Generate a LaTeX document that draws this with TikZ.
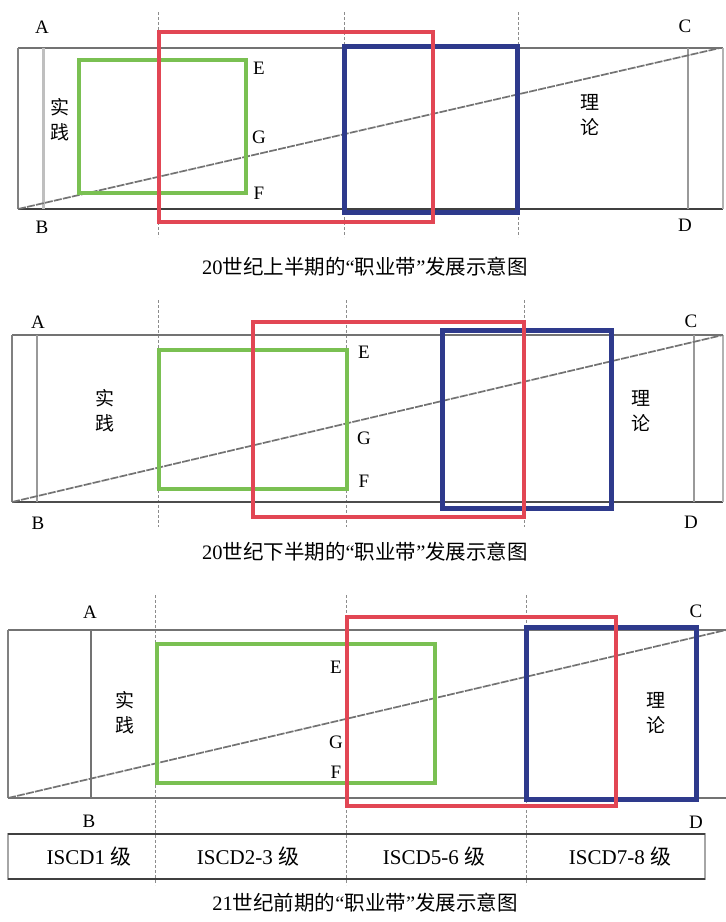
\documentclass[tikz,border=0pt]{standalone}
\usepackage{fontspec}
\setmainfont{Liberation Serif}
\newfontfamily\cjk{Noto Sans CJK SC}
\definecolor{bandred}{RGB}{226,70,84}
\definecolor{bandgreen}{RGB}{122,192,82}
\definecolor{bandblue}{RGB}{46,58,140}

\begin{document}
\begin{tikzpicture}[
  x=1pt, y=-1pt,
  frame/.style={draw=black!55, line width=2.2pt},
  edgeline/.style={draw=black!30, line width=2.5pt},
  guide/.style={draw=black!45, line width=0.8pt, dash pattern=on 3pt off 2pt},
  slope/.style={draw=black!55, line width=1.7pt, dash pattern=on 8pt off 1.2pt},
  greenbox/.style={draw=bandgreen, line width=4pt},
  redbox/.style={draw=bandred, line width=4.5pt},
  bluebox/.style={draw=bandblue, line width=5pt},
  ptlabel/.style={font=\fontsize{19}{19}\selectfont, inner sep=0pt},
  side/.style={font=\cjk\fontsize{19}{25}\selectfont, align=center, inner sep=0pt},
  caption/.style={font=\cjk\fontsize{20.5}{20.5}\selectfont, inner sep=0pt},
  level/.style={font=\fontsize{21}{21}\selectfont, inner sep=0pt}
]
\useasboundingbox (0,0) rectangle (726,922);

% first half of the 20th century
\foreach \gx in {158,344,518} \draw[guide] (\gx,12) -- (\gx,237);
\draw[frame] (18,48) -- (723,48);
\draw[frame, draw=black!75] (18,209) -- (723,209);
\draw[draw=black!50, line width=1.2pt] (18,48) -- (18,209);
\draw[edgeline] (723,48) -- (723,209);
\draw[draw=black!25, line width=3pt] (43,48) -- (43,209);
\draw[draw=black!40, line width=1.8pt] (688,48) -- (688,209);
\draw[slope] (18,209) -- (720,48);
\draw[greenbox] (79,60) rectangle (246,193);
\draw[bluebox] (344,46) rectangle (517,212);
\draw[redbox] (159,32) rectangle (433,222);
\node[ptlabel] (a1) at (42,27) {A};
\node[ptlabel] (b1) at (42,227) {B};
\node[ptlabel] (c1) at (685,26) {C};
\node[ptlabel] (d1) at (685,225) {D};
\node[ptlabel] (e1) at (259,68) {E};
\node[ptlabel] (g1) at (259,137) {G};
\node[ptlabel] (f1) at (259,193) {F};
\node[side] (prac1) at (60,120) {实\\践};
\node[side] (theo1) at (590,115) {理\\论};
\node[caption] (cap1) at (365,267) {{\rmfamily 20}世纪上半期的{\rmfamily “}职业带{\rmfamily ”}发展示意图};

% second half of the 20th century
\foreach \gx in {158,346,524} \draw[guide] (\gx,300) -- (\gx,527);
\draw[frame] (12,335) -- (723,335);
\draw[frame, draw=black!70] (12,502) -- (723,502);
\draw[draw=black!50, line width=1.2pt] (12,335) -- (12,502);
\draw[edgeline] (723,335) -- (723,502);
\draw[draw=black!40, line width=1.5pt] (37,335) -- (37,502);
\draw[draw=black!40, line width=1.5pt] (694,335) -- (694,502);
\draw[slope] (12,502) -- (723,335);
\draw[greenbox] (159,350) rectangle (347,489);
\draw[bluebox] (442,330) rectangle (611,508);
\draw[redbox] (253,322) rectangle (524,517);
\node[ptlabel] (a2) at (38,322) {A};
\node[ptlabel] (b2) at (38,523) {B};
\node[ptlabel] (c2) at (691,321) {C};
\node[ptlabel] (d2) at (691,522) {D};
\node[ptlabel] (e2) at (364,352) {E};
\node[ptlabel] (g2) at (364,438) {G};
\node[ptlabel] (f2) at (364,481) {F};
\node[side] (prac2) at (105,411) {实\\践};
\node[side] (theo2) at (641,411) {理\\论};
\node[caption] (cap2) at (365,552) {{\rmfamily 20}世纪下半期的{\rmfamily “}职业带{\rmfamily ”}发展示意图};

% early 21st century
\foreach \gx in {155,346,526} \draw[guide] (\gx,595) -- (\gx,885);
\draw[frame] (8,630) -- (726,630);
\draw[frame] (8,798) -- (726,798);
\draw[draw=black!50, line width=1.2pt] (8,630) -- (8,798);
\draw[draw=black!55, line width=1.5pt] (91,630) -- (91,798);
\draw[slope] (8,798) -- (726,630);
\draw[greenbox] (157,644) rectangle (435,783);
\draw[bluebox] (526,627) rectangle (696,799);
\draw[redbox] (347,617) rectangle (616,806);
\node[ptlabel] (a3) at (90,612) {A};
\node[ptlabel] (b3) at (89,821) {B};
\node[ptlabel] (c3) at (696,611) {C};
\node[ptlabel] (d3) at (696,822) {D};
\node[ptlabel] (e3) at (336,667) {E};
\node[ptlabel] (g3) at (336,742) {G};
\node[ptlabel] (f3) at (336,772) {F};
\node[side] (prac3) at (125,713) {实\\践};
\node[side] (theo3) at (656,713) {理\\论};
\draw[draw=black!35, line width=1.5pt] (8,834) rectangle (705,879);
\draw[draw=black!75, line width=2.5pt] (8,834) -- (705,834);
\draw[draw=black!75, line width=2.5pt] (8,879) -- (705,879);
\node[level] (iscd1) at (89,857) {ISCD1 {\cjk 级}};
\node[level] (iscd2) at (248,857) {ISCD2-3 {\cjk 级}};
\node[level] (iscd5) at (434,857) {ISCD5-6 {\cjk 级}};
\node[level] (iscd7) at (620,857) {ISCD7-8 {\cjk 级}};
\node[caption] (cap3) at (365,903) {{\rmfamily 21}世纪前期的{\rmfamily “}职业带{\rmfamily ”}发展示意图};
\end{tikzpicture}
\end{document}
